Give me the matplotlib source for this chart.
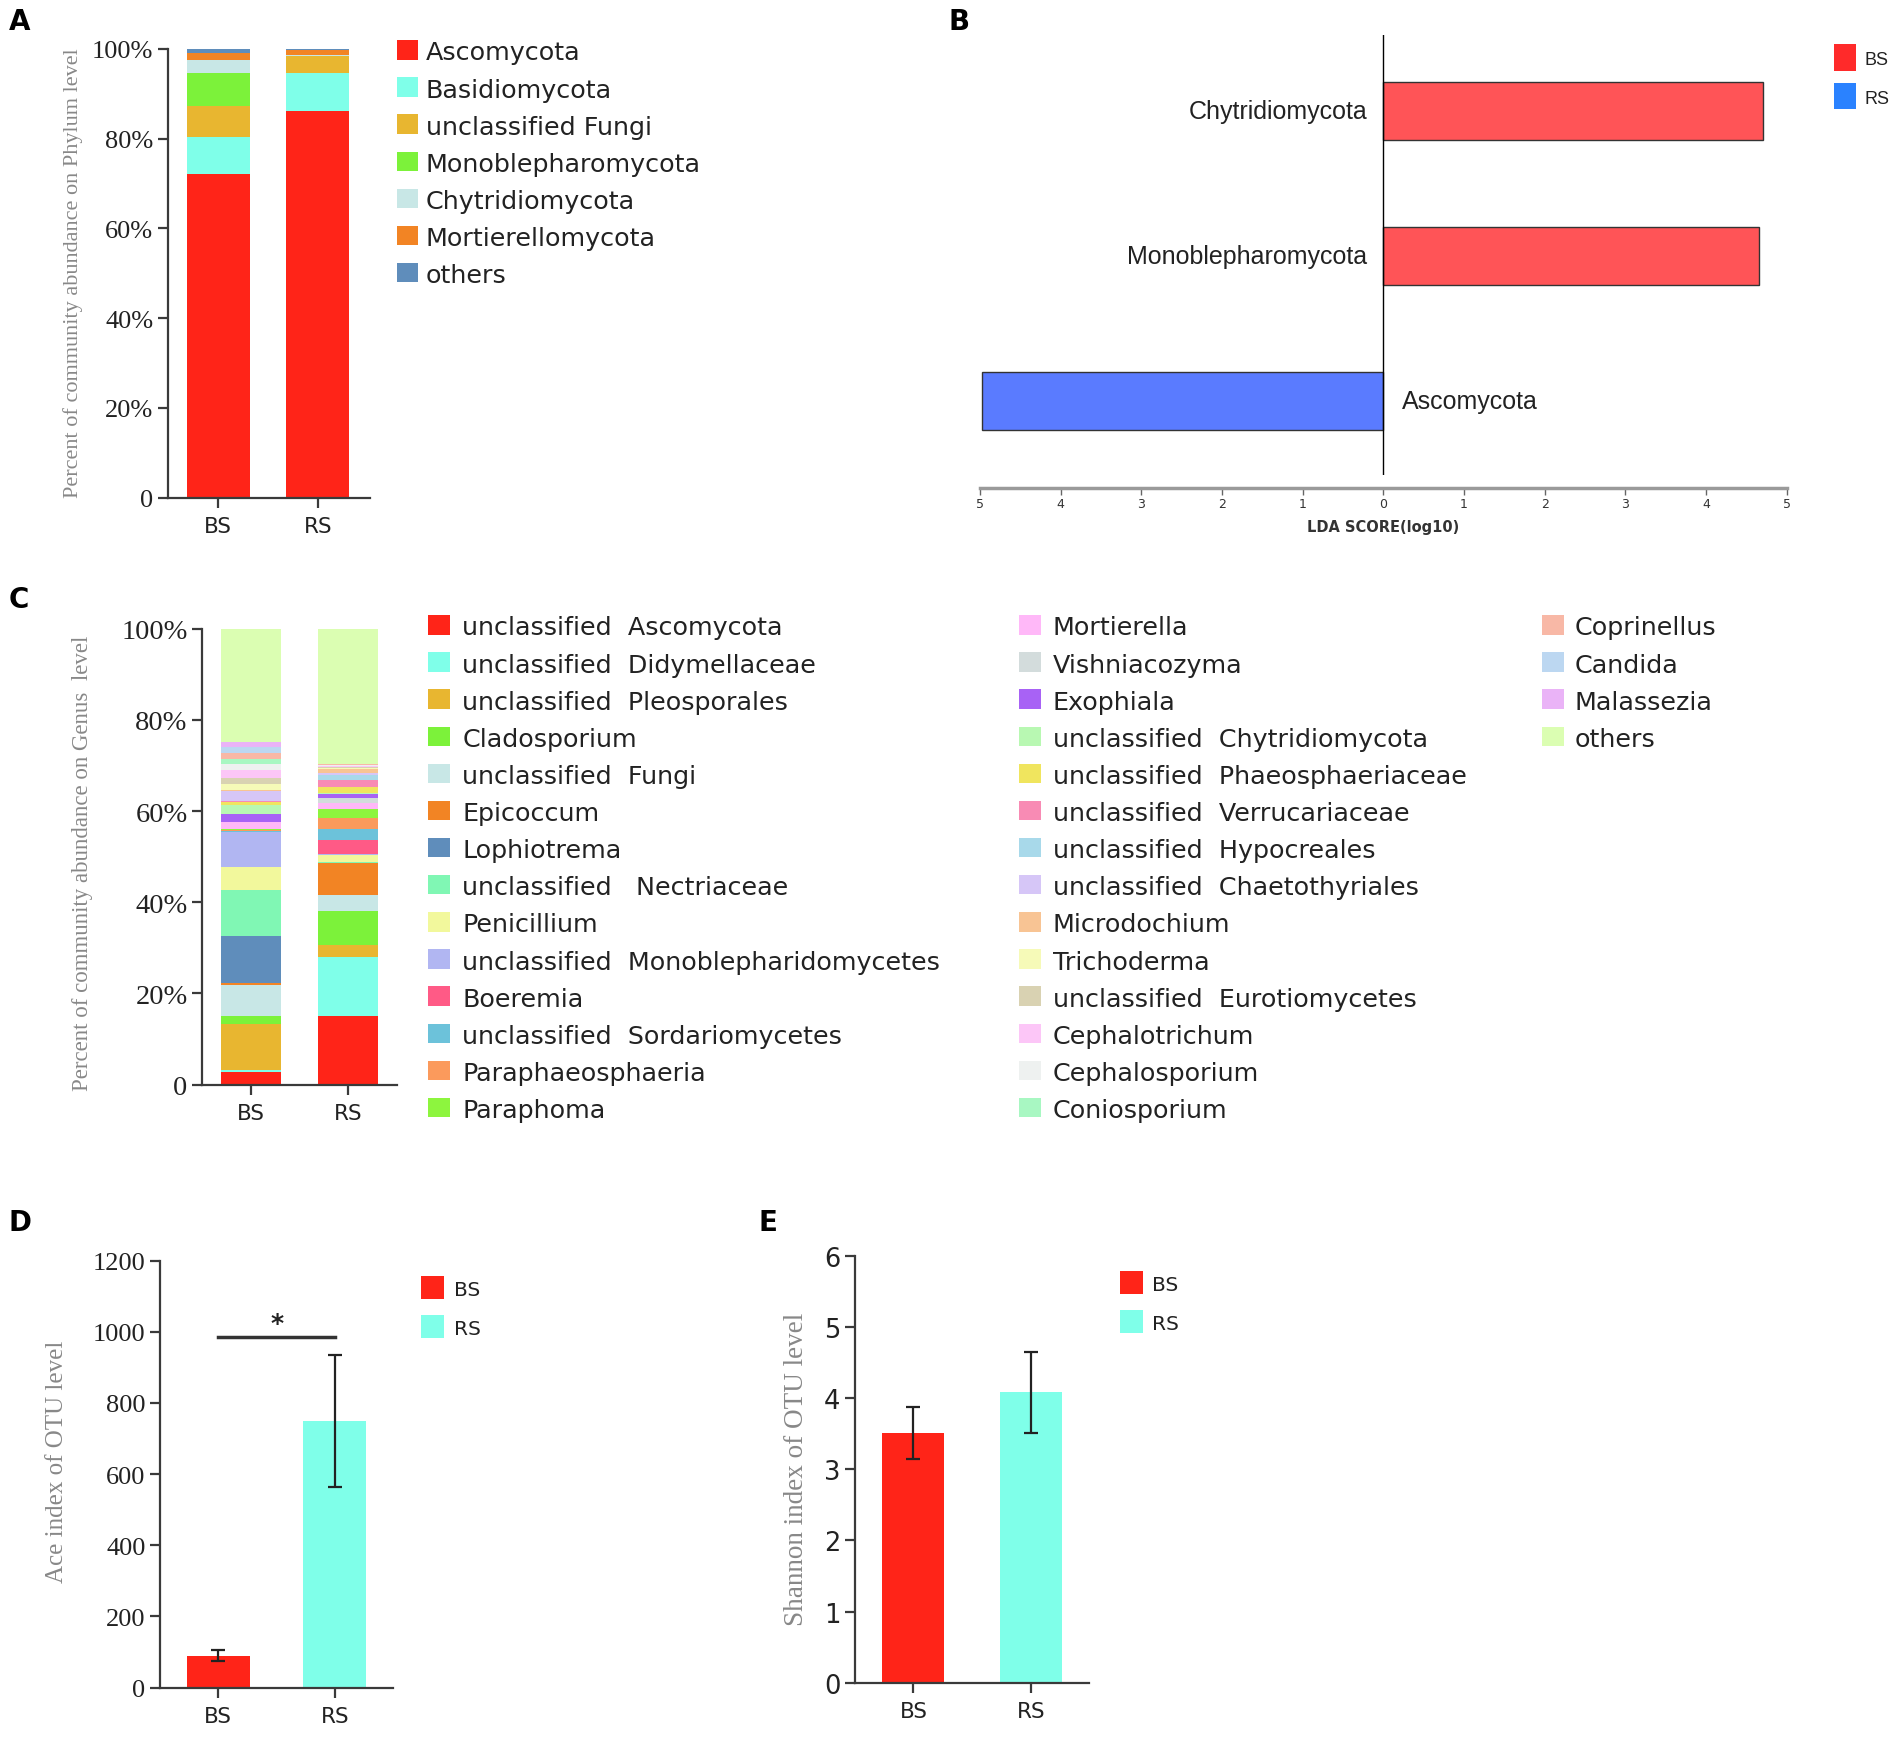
import matplotlib
matplotlib.use("Agg")
import matplotlib.pyplot as plt
from matplotlib.patches import Rectangle

# ── data ─────────────────────────────────────────────────────────────────────
groups = ["BS", "RS"]

phyla = ["Ascomycota", "Basidiomycota", "unclassified Fungi", "Monoblepharomycota",
         "Chytridiomycota", "Mortierellomycota", "others"]
phylum_colors = ["#FF2418", "#7FFFE9", "#E8B630", "#7CF23A", "#C8E7E6", "#F28424", "#5F8DBB"]
phylum_bs = [72.1, 8.3, 6.9, 7.4, 2.8, 1.5, 1.0]
phylum_rs = [86.2, 8.5, 3.6, 0.1, 0.3, 1.0, 0.3]

lda_taxa = ["Ascomycota", "Monoblepharomycota", "Chytridiomycota"]
lda_scores = [-4.98, 4.65, 4.71]
lda_groups = ["RS", "BS", "BS"]

genera = ["unclassified  Ascomycota", "unclassified  Didymellaceae", "unclassified  Pleosporales",
          "Cladosporium", "unclassified  Fungi", "Epicoccum", "Lophiotrema",
          "unclassified   Nectriaceae", "Penicillium", "unclassified  Monoblepharidomycetes",
          "Boeremia", "unclassified  Sordariomycetes", "Paraphaeosphaeria", "Paraphoma",
          "Mortierella", "Vishniacozyma", "Exophiala", "unclassified  Chytridiomycota",
          "unclassified  Phaeosphaeriaceae", "unclassified  Verrucariaceae",
          "unclassified  Hypocreales", "unclassified  Chaetothyriales", "Microdochium",
          "Trichoderma", "unclassified  Eurotiomycetes", "Cephalotrichum", "Cephalosporium",
          "Coniosporium", "Coprinellus", "Candida", "Malassezia", "others"]
genus_colors = ["#FF2418", "#7FFFE9", "#E8B630", "#7CF23A", "#C8E7E6", "#F28424", "#5F8DBB",
                "#80F7B4", "#F2F89C", "#B1B6F2", "#FF5A86", "#6CC2DA", "#FB9A5C", "#8DF53E",
                "#FFB8F8", "#D3DCDC", "#A862F5", "#B8F8B2", "#F0E55E", "#F88BB4", "#A8D9EA",
                "#D6C6F7", "#F8C494", "#F6FAB8", "#D9D2B2", "#FCC6F7", "#EEF1F0", "#A8F7C2",
                "#F8B8A6", "#BCD7F1", "#EAB3F7", "#DBFEB2"]
genus_bs = [2.8, 0.5, 10.1, 1.7, 6.8, 0.5, 10.2, 10.0, 5.1, 7.6, 0.1, 0.3, 0.1, 0.2, 1.5, 0.1,
            1.8, 2.0, 0.6, 0.1, 0.1, 2.1, 0.2, 1.5, 1.3, 1.6, 1.3, 1.3, 1.2, 1.3, 1.2, 24.8]
genus_rs = [15.0, 13.0, 2.7, 7.4, 3.5, 6.9, 0.1, 0.3, 1.4, 0.2, 3.2, 2.3, 2.5, 2.0, 1.2, 1.2,
            0.9, 0.2, 1.3, 1.5, 1.2, 0.3, 0.9, 0.3, 0.2, 0.2, 0.1, 0.1, 0.1, 0.1, 0.0, 29.7]

ace_mean = [90, 750]
ace_err = [15, 185]
shannon_mean = [3.51, 4.08]
shannon_err = [0.36, 0.565]

group_colors = ["#FF2418", "#7FFFE9"]
lda_colors = {"BS": "#FF5457", "RS": "#5A7BFF"}
lda_legend_colors = {"BS": "#FF2A2A", "RS": "#2A82FF"}

# ── layout helpers (reference measured on a 1568 x 1434 preview) ─────────────
W_D, H_D = 1568.0, 1434.4
AX_C = "#3a3a3a"
TXT_C = "#222222"
SERIF = ["Liberation Serif", "DejaVu Serif"]
SANS = ["DejaVu Sans"]


def fx(x):
    return x / W_D


def fy(y):
    return 1 - y / H_D


def box(x0, y0, x1, y1):
    return [fx(x0), fy(y1), fx(x1) - fx(x0), fy(y0) - fy(y1)]


fig = plt.figure(figsize=(19.02, 17.40), dpi=100)
fig.patch.set_facecolor("white")


def prism_axes(ax, serif_ticks=True, ysize=18):
    for s in ["top", "right"]:
        ax.spines[s].set_visible(False)
    for s in ["left", "bottom"]:
        ax.spines[s].set_linewidth(1.6)
        ax.spines[s].set_color(AX_C)
    ax.tick_params(direction="out", length=7, width=1.6, color=AX_C)
    ax.tick_params(axis="x", labelsize=15.5, labelcolor=TXT_C, pad=6)
    for lab in ax.get_yticklabels():
        lab.set_fontfamily(SERIF if serif_ticks else SANS)
        lab.set_fontsize(ysize)
        lab.set_color(TXT_C)


def legend_block(x_sq, y_first, dy, names, colors, fs, sq=(18, 16), gap=6):
    for i, (name, col) in enumerate(zip(names, colors)):
        yc = y_first + i * dy
        fig.add_artist(Rectangle((fx(x_sq), fy(yc + sq[1] / 2)), sq[0] / W_D, sq[1] / H_D,
                                 transform=fig.transFigure, facecolor=col, edgecolor="none"))
        fig.text(fx(x_sq + sq[0] + gap), fy(yc), name, fontsize=fs, ha="left",
                 va="center_baseline", color=TXT_C, family=SANS)


def panel_letter(x, y, letter):
    fig.text(fx(x), fy(y), letter, fontsize=20, fontweight="bold", ha="left",
             va="center", color="black")


def ylabel(x, y, text, fs):
    fig.text(fx(x), fy(y), text, rotation=90, ha="center", va="center",
             fontsize=fs, color="#888888", family=SERIF)


# ── A: phylum stacked bars ────────────────────────────────────────────────────
ax_a = fig.add_axes(box(138.5, 41, 305, 411))
bottom = [0.0, 0.0]
for name, col, vb, vr in zip(phyla, phylum_colors, phylum_bs, phylum_rs):
    ax_a.bar([0, 1], [vb, vr], width=0.634, bottom=bottom, color=col, edgecolor="none")
    bottom = [bottom[0] + vb, bottom[1] + vr]
ax_a.set_xlim(-0.506, 1.524)
ax_a.set_ylim(0, 100)
ax_a.set_xticks([0, 1])
ax_a.set_xticklabels(groups)
ax_a.set_yticks([0, 20, 40, 60, 80, 100])
ax_a.set_yticklabels(["0", "20%", "40%", "60%", "80%", "100%"])
prism_axes(ax_a, ysize=19)
ylabel(60, 225, "Percent of community abundance on Phylum level", 16)
legend_block(327, 42, 30.6, phyla, phylum_colors, 18.3)
panel_letter(7, 18, "A")

# ── B: LDA scores ─────────────────────────────────────────────────────────────
ax_b = fig.add_axes(box(808, 30, 1473, 392))
ypos = list(range(len(lda_taxa)))
ax_b.barh(ypos, lda_scores, height=0.40,
          color=[lda_colors[g] for g in lda_groups], edgecolor="#333333", linewidth=1)
ax_b.axvline(0, color="black", linewidth=1)
ax_b.set_xlim(-5, 5)
ax_b.set_ylim(-0.51, 2.52)
for s in ["top", "right", "left"]:
    ax_b.spines[s].set_visible(False)
ax_b.spines["bottom"].set_position(("outward", 9.5))
ax_b.spines["bottom"].set_color("#9a9a9a")
ax_b.spines["bottom"].set_linewidth(2.5)
ax_b.set_yticks([])
ax_b.set_xticks(range(-5, 6))
ax_b.set_xticklabels([str(abs(v)) for v in range(-5, 6)])
ax_b.tick_params(axis="x", length=5, width=1, color="#666666", labelsize=9,
                 labelcolor="#333333", pad=2)
ax_b.set_xlabel("LDA SCORE(log10)", fontsize=10.5, fontweight="bold", color="#333333",
                labelpad=6)
for y, name, val in zip(ypos, lda_taxa, lda_scores):
    if val > 0:
        ax_b.text(-0.2, y, name, ha="right", va="center", fontsize=18,
                  family=["Liberation Sans", "DejaVu Sans"], color=TXT_C)
    else:
        ax_b.text(0.23, y, name, ha="left", va="center", fontsize=18,
                  family=["Liberation Sans", "DejaVu Sans"], color=TXT_C)
for i, g in enumerate(["BS", "RS"]):
    yc = 48 + i * 32
    fig.add_artist(Rectangle((fx(1512), fy(yc + 11)), 18 / W_D, 22 / H_D,
                             transform=fig.transFigure, facecolor=lda_legend_colors[g],
                             edgecolor="none"))
    fig.text(fx(1537), fy(yc), g, fontsize=13, ha="left", va="center_baseline",
             color=TXT_C, family=["Liberation Sans", "DejaVu Sans"])
panel_letter(782, 18, "B")

# ── C: genus stacked bars ─────────────────────────────────────────────────────
ax_c = fig.add_axes(box(166.6, 519, 327, 895))
bottom = [0.0, 0.0]
for name, col, vb, vr in zip(genera, genus_colors, genus_bs, genus_rs):
    ax_c.bar([0, 1], [vb, vr], width=0.6125, bottom=bottom, color=col, edgecolor="none")
    bottom = [bottom[0] + vb, bottom[1] + vr]
ax_c.set_xlim(-0.505, 1.5)
ax_c.set_ylim(0, 100)
ax_c.set_xticks([0, 1])
ax_c.set_xticklabels(groups)
ax_c.set_yticks([0, 20, 40, 60, 80, 100])
ax_c.set_yticklabels(["0", "20%", "40%", "60%", "80%", "100%"])
prism_axes(ax_c, ysize=20.5)
ylabel(68, 712, "Percent of community abundance on Genus  level", 16.5)
legend_block(353, 516, 30.6, genera[:14], genus_colors[:14], 18.3, gap=10)
legend_block(840, 516, 30.6, genera[14:28], genus_colors[14:28], 18.3, gap=10)
legend_block(1271, 516, 30.6, genera[28:], genus_colors[28:], 18.3, gap=9)
panel_letter(7, 495, "C")

# ── D: Ace index ──────────────────────────────────────────────────────────────
ax_d = fig.add_axes(box(132, 1040, 324, 1392))
ax_d.bar([0, 1], ace_mean, width=0.54, color=group_colors, edgecolor="none")
ax_d.errorbar([0, 1], ace_mean, yerr=ace_err, fmt="none", ecolor="#222222",
              elinewidth=1.6, capsize=5, capthick=1.6)
ax_d.plot([0, 1], [986, 986], color="#333333", linewidth=2.5, clip_on=False)
ax_d.text(0.5, 990, "*", ha="center", va="bottom", fontsize=18, fontweight="bold",
          color="#222222")
ax_d.set_xlim(-0.5, 1.5)
ax_d.set_ylim(0, 1200)
ax_d.set_xticks([0, 1])
ax_d.set_xticklabels(groups)
ax_d.set_yticks(range(0, 1201, 200))
prism_axes(ax_d, ysize=19)
ylabel(47, 1205, "Ace index of OTU level", 18)
legend_block(347, 1062, 32, groups, group_colors, 14.5, sq=(19, 19), gap=8)
panel_letter(7, 1008, "D")

# ── E: Shannon index ─────────────────────────────────────────────────────────
ax_e = fig.add_axes(box(705, 1036, 898, 1388))
ax_e.bar([0, 1], shannon_mean, width=0.526, color=group_colors, edgecolor="none")
ax_e.errorbar([0, 1], shannon_mean, yerr=shannon_err, fmt="none", ecolor="#222222",
              elinewidth=1.6, capsize=5, capthick=1.6)
ax_e.set_xlim(-0.495, 1.495)
ax_e.set_ylim(0, 6)
ax_e.set_xticks([0, 1])
ax_e.set_xticklabels(groups)
ax_e.set_yticks(range(0, 7))
prism_axes(ax_e, serif_ticks=False, ysize=18.5)
ylabel(657, 1211, "Shannon index of OTU level", 19.5)
legend_block(923, 1058, 32, groups, group_colors, 14.5, sq=(19, 19), gap=8)
panel_letter(625, 1008, "E")

fig.savefig("out.png", dpi=100, facecolor="white")
